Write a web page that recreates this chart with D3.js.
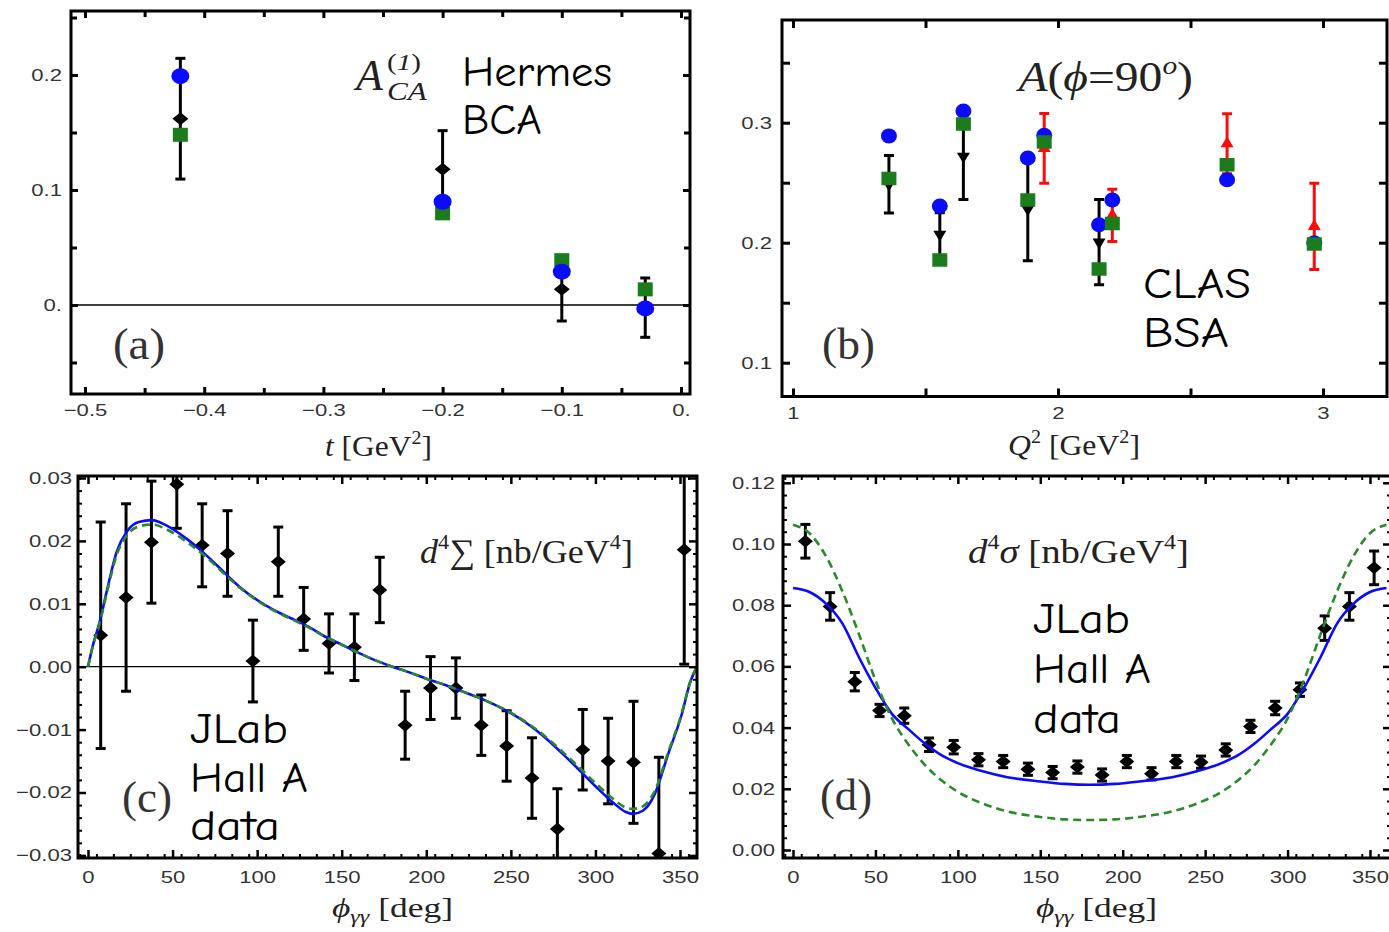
<!DOCTYPE html>
<html>
<head>
<meta charset="utf-8">
<script src="https://cdn.jsdelivr.net/npm/d3@7/dist/d3.min.js"></script>
<style>
  html, body { margin: 0; padding: 0; background: #fff; }
  svg { display: block; }
</style>
</head>
<body>
<svg id="fig" width="1389" height="932"></svg>
<script>
// ---------- (a) HERMES beam-charge asymmetry vs t ----------
const aT      = [-0.42, -0.2, -0.1, -0.03];
const aData   = [0.162, 0.118, 0.0136, -0.0023];
const aErr    = [0.0525, 0.0336, 0.0275, 0.0258];
const aBlue   = [0.199, 0.0898, 0.029, -0.003];
const aGreen  = [0.148, 0.0797, 0.039, 0.0136];
const aXTicks = [-0.5, -0.4, -0.3, -0.2, -0.1, 0];
const aXLabels = ["\u22120.5", "\u22120.4", "\u22120.3", "\u22120.2", "\u22120.1", "0."];
const aYTicks = [0, 0.1, 0.2];
const aYLabels = ["0.", "0.1", "0.2"];

// ---------- (b) CLAS beam-spin asymmetry at phi = 90 deg vs Q^2 ----------
const bQ2      = [1.362, 1.554, 1.643, 1.886, 1.948, 2.155, 2.205, 2.638, 2.967];
const bBlue    = [0.289, 0.2306, 0.3098, 0.2706, 0.2895, 0.215, 0.2356, 0.2525, 0.200];
const bGreen   = [0.2536, 0.1856, 0.299, 0.2356, 0.284, 0.178, 0.216, 0.265, 0.199];
const bBlackQ2 = [1.362, 1.554, 1.643, 1.886, 2.155];
const bBlack   = [0.2487, 0.207, 0.272, 0.228, 0.2005];
const bBlackErr = [0.024, 0.018, 0.036, 0.043, 0.0355];
const bRedQ2   = [1.948, 2.205, 2.638, 2.967];
const bRed     = [0.2786, 0.2228, 0.2825, 0.2136];
const bRedErr  = [0.029, 0.0217, 0.025, 0.036];
const bXTicks = [1, 2, 3];
const bXLabels = ["1", "2", "3"];
const bYTicks = [0.1, 0.2, 0.3];
const bYLabels = ["0.1", "0.2", "0.3"];

// ---------- (c),(d) JLab Hall A data vs phi_gg ----------
const phiBins = [7.5, 22.5, 37.5, 52.5, 67.5, 82.5, 97.5, 112.5, 127.5, 142.5, 157.5, 172.5,
                 187.5, 202.5, 217.5, 232.5, 247.5, 262.5, 277.5, 292.5, 307.5, 322.5, 337.5, 352.5];
const cData = [0.0050, 0.0110, 0.0198, 0.0290, 0.0193, 0.0180, 0.0009, 0.0167, 0.0076, 0.0037, 0.0031, 0.0122,
               -0.0093, -0.0034, -0.0034, -0.0093, -0.0126, -0.0177, -0.0258, -0.0132, -0.0150, -0.0152, -0.0297, 0.0186];
const cErr  = [0.0180, 0.0149, 0.0097, 0.0070, 0.0066, 0.0068, 0.0065, 0.0055, 0.0050, 0.0047, 0.0053, 0.0052,
               0.0054, 0.0050, 0.0048, 0.0048, 0.0056, 0.0064, 0.0064, 0.0064, 0.0068, 0.0097, 0.0153, 0.0182];
const cCurvePhi  = [0, 3, 7, 11, 17, 23, 30, 38, 46, 58, 70, 82, 90, 100, 110, 120, 130, 140, 150, 160, 170, 180,
                    190, 200, 210, 220, 230, 240, 250, 260, 270, 280, 290, 300, 310, 318, 322, 328, 335, 343, 351, 356, 360];
const cBlue  = [0, 0.0035, 0.0072, 0.0119, 0.0183, 0.0215, 0.0230, 0.0233, 0.0225, 0.0204, 0.0177, 0.0146, 0.0126, 0.0106,
                0.0090, 0.0077, 0.0064, 0.0048, 0.0035, 0.0022, 0.0010, 0,
                -0.0009, -0.0019, -0.0028, -0.0038, -0.0048, -0.0060, -0.0074, -0.0091, -0.0112, -0.0137, -0.0163,
                -0.0190, -0.0215, -0.0231, -0.0234, -0.0229, -0.0203, -0.0139, -0.0076, -0.0025, 0];
const cGreen = [0, 0.0034, 0.0070, 0.0116, 0.0178, 0.0209, 0.0223, 0.0226, 0.0219, 0.0199, 0.0174, 0.0144, 0.0125, 0.0105,
                0.0089, 0.0076, 0.0063, 0.0048, 0.0035, 0.0022, 0.0010, 0,
                -0.0009, -0.0019, -0.0028, -0.0038, -0.0048, -0.0060, -0.0073, -0.0090, -0.0110, -0.0134, -0.0159,
                -0.0185, -0.0209, -0.0224, -0.0226, -0.0222, -0.0198, -0.0136, -0.0074, -0.0024, 0];

const dData = [0.1009, 0.0796, 0.0550, 0.0456, 0.0439, 0.0344, 0.0336, 0.0295, 0.0289, 0.0264, 0.0253, 0.0271,
               0.0245, 0.0289, 0.0249, 0.0289, 0.0287, 0.0327, 0.0404, 0.0464, 0.0524, 0.0725, 0.0796, 0.0922];
const dErr  = [0.0055, 0.0045, 0.0030, 0.0020, 0.0025, 0.0022, 0.0022, 0.0020, 0.0020, 0.0020, 0.0020, 0.0020,
               0.0020, 0.0020, 0.0020, 0.0020, 0.0020, 0.0020, 0.0020, 0.0022, 0.0022, 0.0040, 0.0045, 0.0055];
const dCurvePhi = [0, 10, 20, 30, 40, 50, 60, 70, 80, 90, 100, 115, 130, 150, 165, 180,
                   195, 210, 230, 245, 260, 270, 280, 290, 300, 310, 320, 330, 340, 350, 360];
const dBlue  = [0.0856, 0.0843, 0.0805, 0.0740, 0.0630, 0.0530, 0.0445, 0.0395, 0.0348, 0.0310, 0.0284, 0.0257,
                0.0238, 0.0224, 0.0216, 0.0213, 0.0216, 0.0224, 0.0238, 0.0257, 0.0284, 0.0310, 0.0348, 0.0395,
                0.0445, 0.0530, 0.0630, 0.0740, 0.0805, 0.0843, 0.0856];
const dGreen = [0.1063, 0.1035, 0.0960, 0.0845, 0.0705, 0.0555, 0.0430, 0.0345, 0.0278, 0.0228, 0.0190, 0.0152,
                0.0126, 0.0108, 0.0100, 0.0098, 0.0100, 0.0108, 0.0126, 0.0152, 0.0190, 0.0228, 0.0278, 0.0345,
                0.0430, 0.0555, 0.0705, 0.0845, 0.0960, 0.1035, 0.1063];

const phiTicks = [0, 50, 100, 150, 200, 250, 300, 350];
const phiLabels = ["0", "50", "100", "150", "200", "250", "300", "350"];
const cYTicks = [-0.03, -0.02, -0.01, 0, 0.01, 0.02, 0.03];
const cYLabels = ["\u22120.03", "\u22120.02", "\u22120.01", "0.00", "0.01", "0.02", "0.03"];
const dYTicks = [0, 0.02, 0.04, 0.06, 0.08, 0.10, 0.12];
const dYLabels = ["0.00", "0.02", "0.04", "0.06", "0.08", "0.10", "0.12"];

// ---------- drawing ----------
const SERIF = '"Liberation Serif", "Times New Roman", serif';
const SANS  = '"Liberation Sans", Arial, sans-serif';
const HAND  = '"Comic Sans MS", "Comic Neue", "DejaVu Sans", sans-serif';
const BLUE = "#0a0aff", GREEN = "#1c7c1c", RED = "#ff0a0a";
const TS = 1.3;   // horizontal stretch of tick numerals

const svg = d3.select("#fig");
svg.append("rect").attr("width", 1389).attr("height", 932).attr("fill", "#fff");
const defs = svg.append("defs");

function makePanel(id, box, xCal, yCal) {
  const x = d3.scaleLinear().domain(xCal.d).range(xCal.r);
  const y = d3.scaleLinear().domain(yCal.d).range(yCal.r);
  defs.append("clipPath").attr("id", "clip-" + id).append("rect")
    .attr("x", box.l).attr("y", box.t).attr("width", box.r - box.l).attr("height", box.b - box.t);
  const g = svg.append("g");
  const plot = g.append("g").attr("clip-path", `url(#clip-${id})`);
  return { x, y, g, plot, box };
}

function minorOf(start, stop, step, majors) {
  return d3.range(start, stop + step / 2, step)
    .filter(v => !majors.some(m => Math.abs(m - v) < step / 10));
}

function frameAxes(p, o) {
  const { x, y, g, box } = p;
  const sides = [
    { fn: d3.axisBottom, sc: x, tr: `translate(0,${box.b})`, isX: true,  lab: true },
    { fn: d3.axisTop,    sc: x, tr: `translate(0,${box.t})`, isX: true,  lab: false },
    { fn: d3.axisLeft,   sc: y, tr: `translate(${box.l},0)`, isX: false, lab: true },
    { fn: d3.axisRight,  sc: y, tr: `translate(${box.r},0)`, isX: false, lab: false }
  ];
  for (const s of sides) {
    const minor = s.isX ? o.xMinor : o.yMinor;
    const ticks = s.isX ? o.xTicks : o.yTicks;
    const labels = s.isX ? o.xLabels : o.yLabels;
    const pad = s.isX ? o.xPad : o.yPad;
    if (minor.length) {
      const mg = g.append("g").attr("transform", s.tr)
        .call(s.fn(s.sc).tickValues(minor).tickSize(-o.minorLen).tickFormat(""));
      mg.select(".domain").remove();
      mg.selectAll("line").attr("stroke", "#000").attr("stroke-width", o.minorW);
    }
    const ag = g.append("g").attr("transform", s.tr)
      .call(s.fn(s.sc).tickValues(ticks).tickSize(-o.majorLen).tickPadding(pad)
        .tickFormat(s.lab ? (d => labels[ticks.indexOf(d)]) : ""));
    ag.select(".domain").remove();
    ag.selectAll("line").attr("stroke", "#000").attr("stroke-width", o.majorW);
    if (s.lab) {
      const t = ag.selectAll("text").attr("font-family", SANS).attr("font-size", o.font).attr("fill", "#333");
      if (s.isX) t.attr("transform", `scale(${TS},1)`);
      else t.attr("x", -pad / TS).attr("transform", `scale(${TS},1)`);
    }
  }
  g.append("rect").attr("x", box.l).attr("y", box.t)
    .attr("width", box.r - box.l).attr("height", box.b - box.t)
    .attr("fill", "none").attr("stroke", "#000").attr("stroke-width", 3);
}

function zeroLine(p) {
  p.plot.append("line").attr("x1", p.box.l).attr("x2", p.box.r)
    .attr("y1", p.y(0)).attr("y2", p.y(0)).attr("stroke", "#000").attr("stroke-width", 1.3);
}

function errorBars(p, xs, vs, es, color, cap, w) {
  const g = p.plot.append("g").attr("stroke", color).attr("stroke-width", w).attr("fill", "none");
  xs.forEach((xv, i) => {
    const px = p.x(xv), y1 = p.y(vs[i] - es[i]), y2 = p.y(vs[i] + es[i]);
    g.append("line").attr("x1", px).attr("x2", px).attr("y1", y1).attr("y2", y2);
    g.append("line").attr("x1", px - cap).attr("x2", px + cap).attr("y1", y1).attr("y2", y1);
    g.append("line").attr("x1", px - cap).attr("x2", px + cap).attr("y1", y2).attr("y2", y2);
  });
}

const unitDiamond = d3.symbol().type(d3.symbolSquare).size(2)();
const unitSquare = d3.symbol().type(d3.symbolSquare).size(1)();
const unitTriangle = d3.symbol().type(d3.symbolTriangle).size(1)();

function diamonds(p, xs, vs, hw, hh, color) {
  p.plot.append("g").selectAll("path").data(xs).join("path")
    .attr("d", unitDiamond).attr("fill", color)
    .attr("transform", (d, i) => `translate(${p.x(d)},${p.y(vs[i])}) scale(${hw},${hh}) rotate(45)`);
}
function circles(p, xs, vs, rx, ry, color) {
  p.plot.append("g").selectAll("ellipse").data(xs).join("ellipse")
    .attr("cx", d => p.x(d)).attr("cy", (d, i) => p.y(vs[i])).attr("rx", rx).attr("ry", ry).attr("fill", color);
}
function squares(p, xs, vs, w, h, color) {
  p.plot.append("g").selectAll("path").data(xs).join("path")
    .attr("d", unitSquare).attr("fill", color)
    .attr("transform", (d, i) => `translate(${p.x(d)},${p.y(vs[i])}) scale(${w},${h})`);
}
function triangles(p, xs, vs, w, h, down, color) {
  p.plot.append("g").selectAll("path").data(xs).join("path")
    .attr("d", unitTriangle).attr("fill", color)
    .attr("transform", (d, i) => `translate(${p.x(d)},${p.y(vs[i])}) scale(${w / 1.52},${h / 1.32})${down ? " rotate(180)" : ""}`);
}
function curve(p, xs, vs, color, w, dash) {
  const line = d3.line().x(d => p.x(d)).y((d, i) => p.y(vs[i])).curve(d3.curveMonotoneX);
  const path = p.plot.append("path").attr("d", line(xs)).attr("fill", "none")
    .attr("stroke", color).attr("stroke-width", w).attr("stroke-linejoin", "round");
  if (dash) path.attr("stroke-dasharray", dash);
}

// text placed by its left edge and baseline, squeezed or stretched to a given width
function label(x, base, width, size, family, parts, fill) {
  const g = svg.append("g");
  const t = g.append("text").attr("font-family", family).attr("font-size", size).attr("fill", fill || "#111");
  parts.forEach(pt => {
    const s = t.append("tspan").text(pt.t);
    if (pt.i) s.attr("font-style", "italic");
    if (pt.dy) s.attr("dy", pt.dy);
    if (pt.s) s.attr("font-size", pt.s);
  });
  const b = t.node().getBBox();
  const k = width / b.width;
  g.attr("transform", `translate(${x - b.x * k},${base}) scale(${k},1)`);
}

// ---------- panel (a) ----------
const pa = makePanel("a", { l: 71, t: 11, r: 690, b: 394 }, { d: [-0.5, 0], r: [85, 681] }, { d: [0, 0.2], r: [305, 75] });
zeroLine(pa);
errorBars(pa, aT, aData, aErr, "#000", 5, 3);
diamonds(pa, aT, aData, 8, 6.5, "#000");
squares(pa, aT, aGreen, 15, 14, GREEN);
circles(pa, aT, aBlue, 9, 8, BLUE);
frameAxes(pa, {
  xTicks: aXTicks, xLabels: aXLabels, xMinor: minorOf(-0.45, -0.05, 0.1, aXTicks),
  yTicks: aYTicks, yLabels: aYLabels, yMinor: [-0.05, 0.05, 0.15, 0.25],
  majorLen: 7, minorLen: 6, majorW: 3, minorW: 3, xPad: 10, yPad: 9, font: 17
});

// ---------- panel (b) ----------
const pb = makePanel("b", { l: 782, t: 20, r: 1387, b: 396.5 }, { d: [1, 3], r: [793, 1323] }, { d: [0.1, 0.3], r: [362.7, 122.7] });
errorBars(pb, bBlackQ2, bBlack, bBlackErr, "#000", 5, 3);
triangles(pb, bBlackQ2, bBlack, 13, 11, true, "#000");
errorBars(pb, bRedQ2, bRed, bRedErr, RED, 5, 3);
triangles(pb, bRedQ2, bRed, 13, 11, false, RED);
circles(pb, bQ2, bBlue, 8, 7.5, BLUE);
squares(pb, bQ2, bGreen, 15, 13.5, GREEN);
frameAxes(pb, {
  xTicks: bXTicks, xLabels: bXLabels, xMinor: [1.5, 2.5],
  yTicks: bYTicks, yLabels: bYLabels, yMinor: [0.15, 0.25, 0.35],
  majorLen: 8, minorLen: 8, majorW: 3, minorW: 3, xPad: 10, yPad: 10, font: 17
});

// ---------- panel (c) ----------
const pc = makePanel("c", { l: 78, t: 476, r: 697, b: 858 }, { d: [0, 350], r: [88, 680] }, { d: [-0.03, 0.03], r: [855.4, 478] });
zeroLine(pc);
errorBars(pc, phiBins, cData, cErr, "#000", 5, 3);
diamonds(pc, phiBins, cData, 7.5, 6.5, "#000");
curve(pc, cCurvePhi, cBlue, BLUE, 2.6);
curve(pc, cCurvePhi, cGreen, "#2a8a2a", 2.6, "8,5");
frameAxes(pc, {
  xTicks: phiTicks, xLabels: phiLabels, xMinor: minorOf(-5, 360, 10, phiTicks).filter(v => v > -6 && v < 360),
  yTicks: cYTicks, yLabels: cYLabels, yMinor: minorOf(-0.03, 0.03, 0.002, cYTicks),
  majorLen: 8, minorLen: 4, majorW: 2.5, minorW: 2, xPad: 13, yPad: 6, font: 17
});

// ---------- panel (d) ----------
const pd = makePanel("d", { l: 783, t: 476, r: 1391, b: 858 }, { d: [0, 350], r: [793, 1370] }, { d: [0, 0.1], r: [850, 544] });
errorBars(pd, phiBins, dData, dErr, "#000", 5, 3);
diamonds(pd, phiBins, dData, 7.5, 6.5, "#000");
curve(pd, dCurvePhi, dBlue, BLUE, 2.6);
curve(pd, dCurvePhi, dGreen, "#2a8a2a", 2.6, "8,5");
frameAxes(pd, {
  xTicks: phiTicks, xLabels: phiLabels, xMinor: minorOf(-5, 360, 10, phiTicks).filter(v => v > -6 && v < 360),
  yTicks: dYTicks, yLabels: dYLabels, yMinor: minorOf(0, 0.12, 0.004, dYTicks),
  majorLen: 8, minorLen: 4, majorW: 2.5, minorW: 2, xPad: 13, yPad: 8, font: 17
});

// ---------- annotations ----------
const INK = "#222";
// (a)
label(353, 90, 31, 44, SERIF, [{ t: "A", i: true }], INK);
label(387, 70, 34, 24, SERIF, [{ t: "(" }, { t: "1", i: true }, { t: ")" }], INK);
label(387, 100, 40, 26, SERIF, [{ t: "CA", i: true }], INK);
label(462, 86, 150, 42, HAND, [{ t: "Hermes" }], "#000");
label(462, 134, 80, 42, HAND, [{ t: "BCA" }], "#000");
label(113, 359, 52, 44, SERIF, [{ t: "(a)" }], "#333");
label(325, 456, 107, 30, SERIF, [{ t: "t", i: true }, { t: " [GeV" }, { t: "2", s: 19, dy: -12 }, { t: "]", dy: 12 }], INK);
// (b)
label(1015, 91, 178, 42, SERIF, [{ t: "A", i: true }, { t: "(" }, { t: "\u03d5", i: true }, { t: "=90" },
  { t: "o", i: true, s: 26, dy: -17 }, { t: ")", dy: 17 }], INK);
label(822, 359, 53, 44, SERIF, [{ t: "(b)" }], "#333");
label(1143, 298, 108, 42, HAND, [{ t: "CLAS" }], "#000");
label(1143, 347, 86, 42, HAND, [{ t: "BSA" }], "#000");
label(1008, 455, 132, 30, SERIF, [{ t: "Q", i: true }, { t: "2", s: 19, dy: -12 }, { t: " [GeV", dy: 12 }, { t: "2", s: 19, dy: -12 }, { t: "]", dy: 12 }], INK);
// (c)
label(420, 563, 213, 34, SERIF, [{ t: "d", i: true }, { t: "4", s: 21, dy: -14 }, { t: "\u2211", dy: 14 }, { t: " [nb/GeV" },
  { t: "4", s: 21, dy: -14 }, { t: "]", dy: 14 }], INK);
label(122, 812, 50, 44, SERIF, [{ t: "(c)" }], "#333");
label(190, 743, 98, 42, HAND, [{ t: "JLab" }], "#000");
label(190, 792, 118, 42, HAND, [{ t: "Hall A" }], "#000");
label(190, 840, 90, 42, HAND, [{ t: "data" }], "#000");
label(332, 917, 121, 28, SERIF, [{ t: "\u03d5", i: true }, { t: "\u03b3\u03b3", i: true, s: 19, dy: 6 }, { t: "  [deg]", dy: -6 }], INK);
// (d)
label(968, 563, 221, 34, SERIF, [{ t: "d", i: true }, { t: "4", s: 21, dy: -14 }, { t: "\u03c3", i: true, dy: 14 }, { t: " [nb/GeV" },
  { t: "4", s: 21, dy: -14 }, { t: "]", dy: 14 }], INK);
label(820, 810, 52, 44, SERIF, [{ t: "(d)" }], "#333");
label(1033, 633, 97, 42, HAND, [{ t: "JLab" }], "#000");
label(1033, 683, 118, 42, HAND, [{ t: "Hall A" }], "#000");
label(1033, 733, 88, 42, HAND, [{ t: "data" }], "#000");
label(1036, 917, 121, 28, SERIF, [{ t: "\u03d5", i: true }, { t: "\u03b3\u03b3", i: true, s: 19, dy: 6 }, { t: "  [deg]", dy: -6 }], INK);
</script>
</body>
</html>
